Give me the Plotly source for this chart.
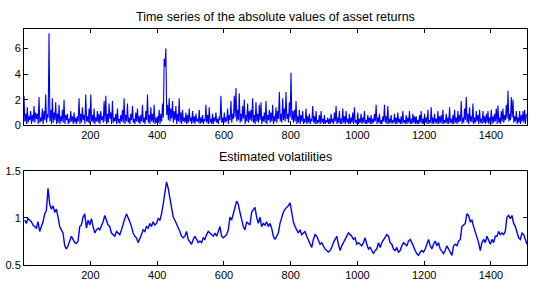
import plotly.graph_objects as go

# ---- data ----
# |returns|: local highs every 5 steps (t = 1, 6, 11, ...) and the lows between them (t = 3.5, 8.5, ...)
peak_start, trough_start, ret_step = 1, 3.5, 5
return_peaks = [
    2.3, 0.9, 1.4, 0.7, 1.1, 0.8, 1.5, 1.0, 0.9, 2.2, 0.6, 1.3, 1.1, 2.4, 0.9, 7.2, 1.2, 2.1, 1.0, 1.8,
    0.9, 1.6, 0.7, 1.2, 2.0, 0.8, 0.9, 0.5, 1.1, 0.7, 1.0, 0.6, 0.7, 2.1, 0.9, 1.4, 0.8, 2.4, 0.7, 1.3,
    2.4, 0.8, 1.3, 0.6, 1.1, 0.9, 1.1, 0.7, 1.9, 2.3, 0.9, 1.7, 1.0, 1.9, 0.6, 0.9, 1.3, 0.5, 0.8, 1.2,
    2.1, 0.8, 1.7, 0.6, 0.9, 1.5, 0.5, 1.0, 1.3, 0.7, 0.8, 1.6, 0.6, 1.1, 2.4, 0.8, 1.4, 0.9, 1.6, 0.6,
    0.7, 1.2, 0.9, 1.7, 5.2, 6.0, 1.6, 2.1, 1.3, 1.9, 1.1, 1.5, 0.9, 2.1, 1.0, 1.2, 0.6, 1.0, 0.8, 1.3,
    0.6, 1.1, 0.7, 0.9, 0.5, 1.2, 0.6, 0.8, 0.5, 1.6, 0.8, 1.4, 0.5, 0.9, 0.6, 1.0, 0.5, 0.7, 2.3, 0.6,
    1.0, 0.6, 1.3, 0.8, 1.9, 0.9, 2.3, 2.9, 1.2, 2.5, 0.9, 1.5, 2.0, 0.8, 1.7, 1.1, 1.2, 2.1, 0.8, 1.8,
    0.9, 1.6, 1.8, 0.7, 1.0, 1.9, 0.8, 1.2, 1.0, 1.6, 0.7, 1.4, 1.1, 2.6, 0.9, 2.1, 1.3, 2.6, 0.9, 1.8,
    4.1, 1.1, 1.2, 1.9, 0.7, 1.2, 0.8, 1.1, 0.5, 1.3, 0.7, 0.9, 0.5, 1.5, 0.7, 1.1, 0.4, 0.8, 1.1, 0.5,
    0.8, 0.4, 0.6, 0.5, 0.9, 0.5, 1.0, 1.5, 0.6, 1.1, 0.5, 1.3, 0.7, 1.1, 0.5, 0.9, 0.6, 1.0, 1.4, 0.4,
    1.0, 0.5, 0.9, 0.6, 1.1, 0.4, 0.8, 0.6, 0.8, 0.5, 0.9, 1.6, 0.6, 0.9, 0.4, 0.7, 1.6, 0.7, 1.5, 0.5,
    0.8, 0.4, 0.9, 0.6, 1.0, 0.5, 0.7, 1.1, 0.4, 0.8, 0.6, 1.1, 0.5, 0.9, 0.7, 0.7, 0.4, 0.8, 1.1, 0.5,
    0.9, 0.6, 1.2, 0.4, 1.4, 0.6, 0.9, 0.5, 1.1, 0.7, 0.8, 1.2, 0.4, 0.9, 0.6, 1.4, 0.5, 0.8, 1.2, 0.6,
    1.1, 0.8, 1.9, 0.6, 1.3, 2.2, 0.9, 1.4, 0.7, 1.7, 0.6, 1.1, 0.8, 1.2, 0.5, 1.1, 0.7, 0.9, 1.1, 0.6,
    1.2, 0.7, 0.9, 1.3, 1.55, 0.6, 1.1, 1.3, 0.8, 1.6, 2.7, 0.9, 2.2, 2.0, 0.7, 1.1, 0.6, 1.1, 0.8, 1.1,
    1.2, 0.9,
]
return_troughs = [
    0.3, 0.1, 0.2, 0.4, 0.1, 0.3, 0.2, 0.5, 0.1, 0.2, 0.3, 0.1, 0.4, 0.2, 0.6, 0.3, 0.1, 0.2, 0.4, 0.1,
    0.2, 0.1, 0.3, 0.2, 0.1, 0.4, 0.1, 0.2, 0.3, 0.1, 0.2, 0.1, 0.3, 0.1, 0.2, 0.4, 0.1, 0.3, 0.2, 0.1,
    0.3, 0.2, 0.1, 0.3, 0.2, 0.1, 0.4, 0.2, 0.3, 0.1, 0.2, 0.5, 0.1, 0.2, 0.3, 0.1, 0.2, 0.1, 0.3, 0.2,
    0.1, 0.3, 0.2, 0.1, 0.4, 0.2, 0.1, 0.3, 0.2, 0.1, 0.3, 0.2, 0.1, 0.4, 0.2, 0.1, 0.3, 0.2, 0.1, 0.2,
    0.2, 0.1, 0.3, 0.6, 4.6, 0.8, 0.4, 0.3, 0.5, 0.2, 0.4, 0.1, 0.3, 0.2, 0.1, 0.3, 0.2, 0.1, 0.2, 0.3,
    0.1, 0.2, 0.1, 0.3, 0.2, 0.1, 0.2, 0.1, 0.3, 0.2, 0.1, 0.2, 0.1, 0.1, 0.3, 0.2, 0.1, 0.4, 0.2, 0.1,
    0.2, 0.3, 0.1, 0.4, 0.2, 0.5, 0.6, 0.3, 0.4, 0.2, 0.3, 0.5, 0.1, 0.3, 0.2, 0.4, 0.3, 0.2, 0.1, 0.3,
    0.2, 0.4, 0.1, 0.3, 0.2, 0.1, 0.4, 0.2, 0.3, 0.1, 0.3, 0.2, 0.5, 0.3, 0.2, 0.4, 0.3, 0.5, 0.2, 0.6,
    0.4, 0.2, 0.3, 0.1, 0.2, 0.1, 0.3, 0.1, 0.2, 0.1, 0.2, 0.1, 0.3, 0.2, 0.1, 0.1, 0.2, 0.1, 0.2, 0.1,
    0.1, 0.2, 0.1, 0.1, 0.2, 0.1, 0.3, 0.1, 0.2, 0.1, 0.1, 0.2, 0.1, 0.2, 0.1, 0.1, 0.2, 0.1, 0.2, 0.1,
    0.1, 0.2, 0.1, 0.2, 0.1, 0.1, 0.2, 0.1, 0.1, 0.2, 0.3, 0.1, 0.2, 0.1, 0.1, 0.3, 0.2, 0.1, 0.1, 0.2,
    0.1, 0.2, 0.1, 0.1, 0.2, 0.1, 0.1, 0.2, 0.1, 0.1, 0.2, 0.1, 0.1, 0.2, 0.1, 0.1, 0.1, 0.2, 0.1, 0.1,
    0.2, 0.1, 0.1, 0.2, 0.1, 0.1, 0.2, 0.1, 0.1, 0.2, 0.1, 0.1, 0.2, 0.1, 0.1, 0.2, 0.1, 0.1, 0.2, 0.1,
    0.2, 0.3, 0.1, 0.2, 0.4, 0.2, 0.1, 0.3, 0.2, 0.1, 0.2, 0.3, 0.1, 0.2, 0.1, 0.2, 0.1, 0.2, 0.1, 0.2,
    0.1, 0.2, 0.3, 0.1, 0.2, 0.1, 0.3, 0.2, 0.4, 0.5, 0.3, 0.4, 0.6, 0.2, 0.3, 0.1, 0.2, 0.1, 0.3, 0.2,
    0.1,
]

vol_start, vol_step = 3, 5
volatility = [
    0.975, 0.941, 0.992, 0.975, 0.958, 0.924, 0.907, 0.890, 0.958, 0.856, 0.907, 0.958, 1.042, 1.076,
    1.314, 1.144, 1.093, 1.127, 1.059, 1.093, 1.008, 0.907, 0.873, 0.839, 0.703, 0.669, 0.703, 0.754,
    0.805, 0.771, 0.737, 0.730, 0.754, 0.907, 0.924, 1.008, 1.042, 0.890, 0.975, 0.924, 0.992, 0.907,
    0.839, 0.873, 0.890, 0.873, 0.907, 0.958, 1.025, 0.975, 0.924, 0.907, 0.839, 0.822, 0.805, 0.856,
    0.839, 0.822, 0.873, 0.941, 0.992, 1.042, 1.008, 0.958, 0.907, 0.839, 0.805, 0.788, 0.737, 0.771,
    0.822, 0.873, 0.856, 0.907, 0.890, 0.941, 0.907, 0.958, 0.924, 0.941, 0.992, 0.975, 1.042, 1.144,
    1.280, 1.381, 1.314, 1.212, 1.110, 1.008, 0.975, 0.941, 0.890, 0.856, 0.805, 0.788, 0.805, 0.856,
    0.771, 0.737, 0.720, 0.771, 0.805, 0.771, 0.737, 0.754, 0.737, 0.788, 0.771, 0.822, 0.856, 0.839,
    0.822, 0.805, 0.839, 0.805, 0.856, 0.907, 0.805, 0.788, 0.805, 0.822, 0.873, 1.008, 0.975, 1.059,
    1.110, 1.178, 1.144, 1.059, 0.975, 0.907, 0.873, 0.958, 0.941, 0.924, 1.059, 1.093, 1.110, 1.008,
    0.941,
    1.008, 0.907, 0.941, 0.924, 0.958, 0.907, 0.941, 0.890, 0.805, 0.771, 0.805, 0.839, 0.941, 1.008,
    1.059, 1.093, 1.110, 1.127, 1.161, 1.042, 0.958, 0.907, 0.873, 0.839, 0.873, 0.822, 0.839, 0.856,
    0.805, 0.771, 0.737, 0.686, 0.771, 0.822, 0.805, 0.771, 0.720, 0.737, 0.703, 0.669, 0.653, 0.636,
    0.653, 0.686, 0.737, 0.771, 0.805, 0.720, 0.653, 0.703, 0.737, 0.771, 0.805, 0.839, 0.822, 0.805,
    0.771, 0.788, 0.720, 0.737, 0.720, 0.703, 0.737, 0.788, 0.720, 0.669, 0.686, 0.653, 0.619, 0.653,
    0.669, 0.737, 0.686, 0.737, 0.771, 0.805, 0.822, 0.805, 0.737, 0.720, 0.669, 0.653, 0.686, 0.636,
    0.653, 0.703, 0.737, 0.720, 0.703, 0.754, 0.771, 0.737, 0.686, 0.653, 0.619, 0.602, 0.636, 0.653,
    0.636, 0.669, 0.720, 0.771, 0.703, 0.669, 0.720, 0.754, 0.703, 0.737, 0.669, 0.636, 0.619, 0.653,
    0.703, 0.669, 0.636, 0.602, 0.703, 0.720, 0.703, 0.754, 0.771, 0.907, 0.924, 0.941, 1.042, 1.025,
    0.958, 0.975, 0.907, 0.856, 0.805, 0.737, 0.653, 0.737, 0.771, 0.737, 0.805, 0.754, 0.720, 0.771,
    0.737, 0.805, 0.805, 0.856, 0.822, 0.839, 0.822, 0.856, 1.008, 1.025, 0.992, 1.025, 0.941, 0.907,
    0.839, 0.788, 0.771, 0.839, 0.822, 0.771, 0.720,
]

x_ticks = [200, 400, 600, 800, 1000, 1200, 1400]
ret_ticks = [0, 2, 4, 6]
vol_ticks = [0.5, 1, 1.5]
titles = ["Time series of the absolute values of asset returns", "Estimated volatilities"]

# interleave highs and lows in time order
ret_points = sorted(
    [(peak_start + ret_step * i, v) for i, v in enumerate(return_peaks)]
    + [(trough_start + ret_step * i, v) for i, v in enumerate(return_troughs)]
)
t_ret = [p[0] for p in ret_points]
abs_returns = [p[1] for p in ret_points]
t_vol = [vol_start + vol_step * i for i in range(len(volatility))]

FONT = "Liberation Sans, Arial, Helvetica, sans-serif"
W, H = 538, 294

fig = go.Figure()
fig.add_trace(go.Scatter(x=t_ret, y=abs_returns, mode="lines",
                         line=dict(color="#0000ff", width=1.1), xaxis="x", yaxis="y",
                         hoverinfo="skip"))
fig.add_trace(go.Scatter(x=t_vol, y=volatility, mode="lines",
                         line=dict(color="#0000ff", width=1.4), xaxis="x2", yaxis="y2",
                         hoverinfo="skip"))

axis_common = dict(showline=True, linecolor="black", linewidth=1, mirror="ticks",
                   ticks="inside", ticklen=4, tickcolor="black", tickwidth=1,
                   showgrid=False, zeroline=False,
                   tickfont=dict(family=FONT, size=11, color="black"))

x0, x1 = 24 / W, 527 / W
fig.update_layout(
    width=W, height=H,
    margin=dict(l=0, r=0, t=0, b=0),
    paper_bgcolor="white", plot_bgcolor="white",
    showlegend=False,
    xaxis=dict(domain=[x0, x1], range=[1, 1508], tickvals=x_ticks, anchor="y", **axis_common),
    yaxis=dict(domain=[1 - 124.3 / H, 1 - 24.3 / H], range=[0, 7.5], tickvals=ret_ticks,
               anchor="x", **axis_common),
    xaxis2=dict(domain=[x0, x1], range=[1, 1508], tickvals=x_ticks, anchor="y2", **axis_common),
    yaxis2=dict(domain=[1 - 270 / H, 1 - 171.7 / H], range=[0.5, 1.5], tickvals=vol_ticks,
                anchor="x2", **axis_common),
    annotations=[
        dict(text=titles[0], x=(x0 + x1) / 2, y=1 - 11 / H, xref="paper", yref="paper",
             xanchor="center", yanchor="middle", showarrow=False,
             font=dict(family=FONT, size=12.5, color="black")),
        dict(text=titles[1], x=(x0 + x1) / 2, y=1 - 157 / H, xref="paper", yref="paper",
             xanchor="center", yanchor="middle", showarrow=False,
             font=dict(family=FONT, size=12.5, color="black")),
    ],
)

fig.write_html("out.html", config={"displayModeBar": False},
               post_script="document.body.style.margin='0';document.body.style.overflow='hidden';")
